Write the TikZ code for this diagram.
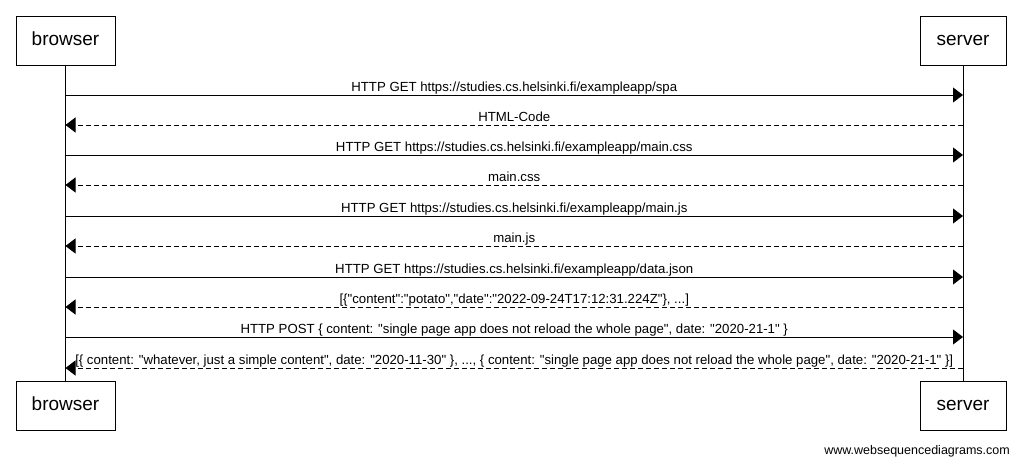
\documentclass[tikz,border=0pt]{standalone}
\usepackage{fontspec}
\setmainfont{Liberation Sans}[Ligatures=TeXOff]
\usetikzlibrary{arrows.meta}

\tikzset{
  actor/.style={draw, line width=1pt, inner sep=0pt, minimum height=49pt, text height=14pt, text depth=4pt, font=\fontsize{19}{22}\selectfont},
  req/.style={line width=1pt, -{Triangle[length=10pt,width=15pt]}},
  resp/.style={req, dash pattern=on 5pt off 3pt},
  lbl/.style={midway, anchor=base, yshift=4pt, inner sep=0pt}
}

\begin{document}
\begin{tikzpicture}[x=1pt, y=-1pt, font=\fontsize{13.2}{15}\selectfont]
        \useasboundingbox (0,0) rectangle (1021,464);

        % participants, top and bottom
        \node[actor, minimum width=99pt] (b1) at (65.5,40.5) {browser};
        \node[actor, minimum width=86pt] (s1) at (963,40.5) {server};
        \node[actor, minimum width=99pt] (b2) at (65.5,405.5) {browser};
        \node[actor, minimum width=86pt] (s2) at (963,405.5) {server};

        % lifelines
        \draw[line width=1pt] (b1.south) -- (b2.north);
        \draw[line width=1pt] (s1.south) -- (s2.north);

        % message points on the lifelines
        \coordinate (b95) at (65.5,95);   \coordinate (s95) at (963,95);
        \coordinate (b125) at (65.5,125); \coordinate (s125) at (963,125);
        \coordinate (b155) at (65.5,155); \coordinate (s155) at (963,155);
        \coordinate (b185) at (65.5,185); \coordinate (s185) at (963,185);
        \coordinate (b216) at (65.5,216); \coordinate (s216) at (963,216);
        \coordinate (b246) at (65.5,246); \coordinate (s246) at (963,246);
        \coordinate (b277) at (65.5,277); \coordinate (s277) at (963,277);
        \coordinate (b307) at (65.5,307); \coordinate (s307) at (963,307);
        \coordinate (b337) at (65.5,337); \coordinate (s337) at (963,337);
        \coordinate (b368) at (65.5,368); \coordinate (s368) at (963,368);

        % page load
        \draw[req] (b95) -- node[lbl] {HTTP GET https://studies.cs.helsinki.fi/exampleapp/spa} (s95);
        \draw[resp] (s125) -- node[lbl] {HTML-Code} (b125);

        % stylesheet and script
        \draw[req] (b155) -- node[lbl] {HTTP GET https://studies.cs.helsinki.fi/exampleapp/main.css} (s155);
        \draw[resp] (s185) -- node[lbl] {main.css} (b185);
        \draw[req] (b216) -- node[lbl] {HTTP GET https://studies.cs.helsinki.fi/exampleapp/main.js} (s216);
        \draw[resp] (s246) -- node[lbl] {main.js} (b246);

        % notes data
        \draw[req] (b277) -- node[lbl] {HTTP GET https://studies.cs.helsinki.fi/exampleapp/data.json} (s277);
        \draw[resp] (s307) -- node[lbl] {[\{"content":"potato","date":"2022-09-24T17:12:31.224Z"\}, ...]} (b307);

        % new note
        \draw[req] (b337) -- node[lbl] {HTTP POST \{ content: "single page app does not reload the whole page", date: "2020-21-1" \}} (s337);
        \draw[resp] (s368) -- node[lbl] {[\{ content: "whatever, just a simple content", date: "2020-11-30" \}, ..., \{ content: "single page app does not reload the whole page", date: "2020-21-1" \}]} (b368);

        % watermark
        \node[anchor=base east, inner sep=0pt, font=\fontsize{12.5}{14}\selectfont] (wm) at (1010,454) {www.websequencediagrams.com};
\end{tikzpicture}
\end{document}
